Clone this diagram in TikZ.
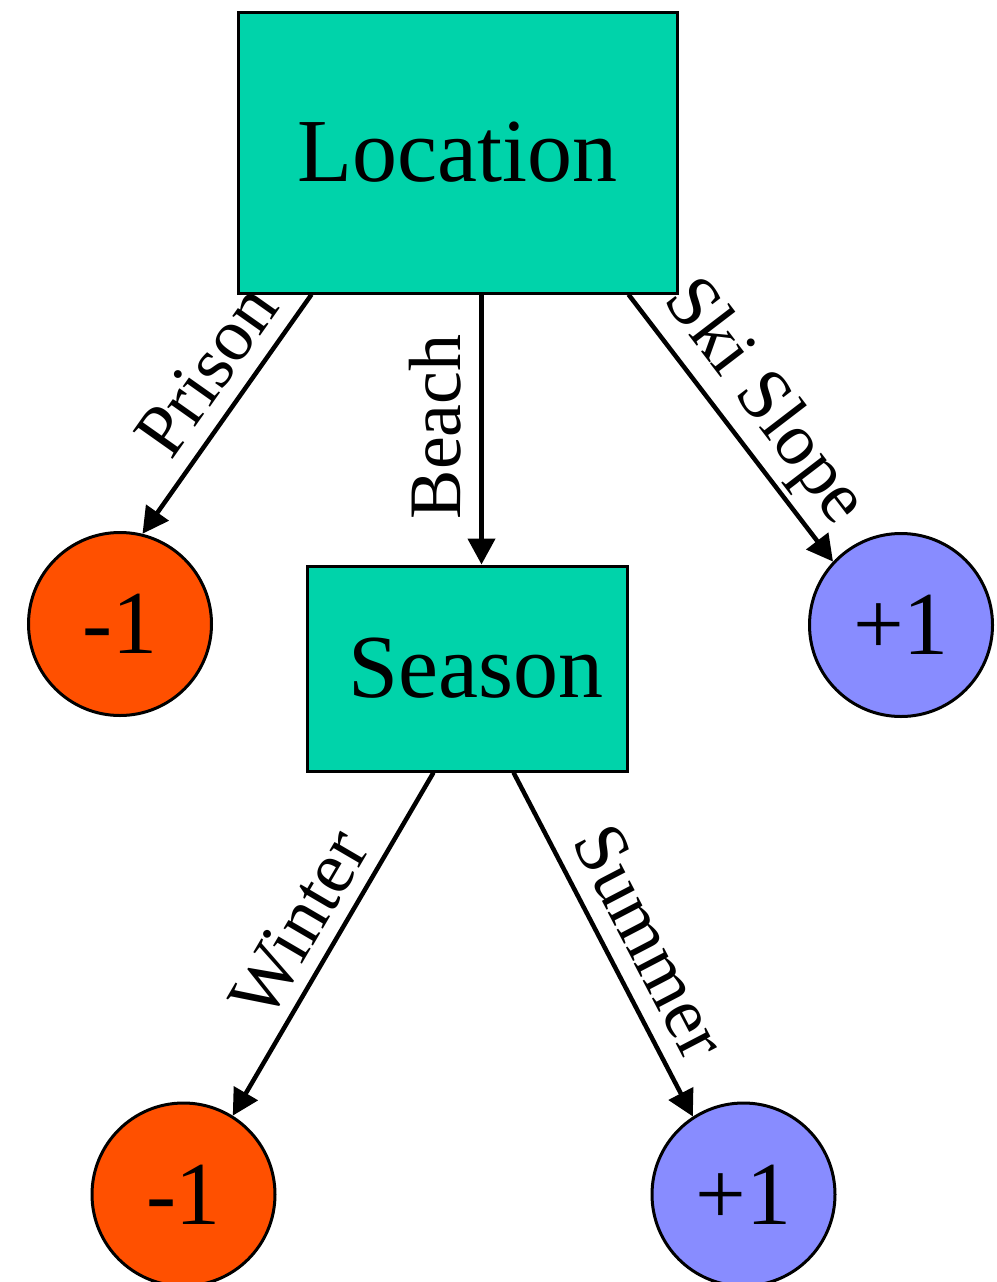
\documentclass[tikz,border=0pt]{standalone}
\usepackage{fontspec}
\setmainfont{Liberation Serif}
\usetikzlibrary{arrows.meta,calc}
\definecolor{nodeteal}{RGB}{0,211,170}
\definecolor{leafneg}{RGB}{255,80,0}
\definecolor{leafpos}{RGB}{136,140,255}
\begin{document}
\begin{tikzpicture}[x=1pt,y=-1pt,
  box/.style={draw=black, line width=3pt, fill=nodeteal, inner sep=0pt,
    font=\fontsize{90}{100}\selectfont},
  leaf/.style={circle, draw=black, line width=3pt, inner sep=0pt,
    minimum size=183pt, font=\fontsize{90}{100}\selectfont},
  negleaf/.style={leaf, fill=leafneg},
  posleaf/.style={leaf, fill=leafpos},
  arr/.style={line width=4.5pt, -{Triangle[length=26pt,width=27pt]}},
  lbl/.style={font=\fontsize{74}{80}\selectfont, inner sep=0pt, anchor=base}
]
\useasboundingbox (0,0) rectangle (996,1282);

% decision nodes
\node[box, minimum width=439pt, minimum height=281pt] (loc) at (457.5,152.5) {Location};
\node[box, minimum width=320pt, minimum height=205pt] (season) at (467,668.5) {\hspace*{18pt}Season};

% leaves
\node[negleaf] (prison) at (120,624) {-1};
\node[posleaf] (ski) at (901,625) {+1};
\node[negleaf] (winter) at (183.5,1194.5) {-1};
\node[posleaf] (summer) at (743.5,1194.5) {+1};

% branches out of Location
\draw[arr] ($(loc.south west)+(75,0)$) --
  node[lbl, sloped, pos=0.42, yshift=18pt] (lprison) {Prison} (prison.76);
\draw[arr] ($(loc.south west)+(245,0)$) --
  node[pos=0.49, xshift=-21pt, rotate=90, lbl] (lbeach) {Beach}
  ($(season.north west)+(176,0)$);
\draw[arr] ($(loc.south west)+(392,0)$) --
  node[lbl, sloped, pos=0.5, yshift=23pt] (lski) {Ski Slope} (ski.137);

% branches out of Season
\draw[arr] ($(season.south west)+(128,0)$) --
  node[lbl, sloped, pos=0.5, yshift=16pt] (lwinter) {Winter} (winter.58.6);
\draw[arr] ($(season.south west)+(208,0)$) --
  node[lbl, sloped, pos=0.55, yshift=19pt] (lsummer) {Summer} (summer.123);
\end{tikzpicture}
\end{document}
